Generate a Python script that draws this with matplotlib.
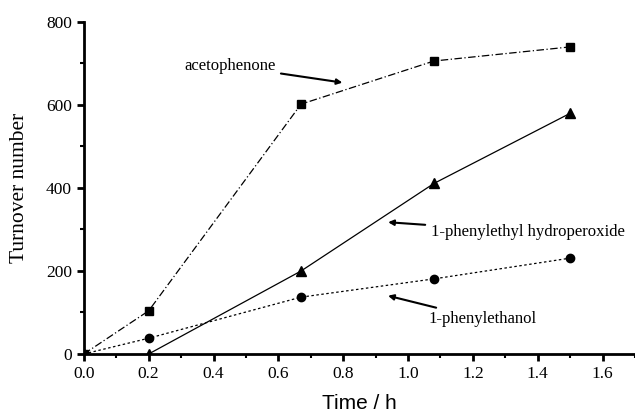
import matplotlib.pyplot as plt
from matplotlib.ticker import MultipleLocator

# data
time_h = [0.0, 0.2, 0.67, 1.08, 1.5]
acetophenone = [0, 104, 602, 706, 740]
hydroperoxide = [0, 0, 200, 411, 580]
phenylethanol = [0, 38, 137, 181, 231]

plt.rcParams['font.family'] = ['Liberation Serif', 'DejaVu Serif']

fig = plt.figure(figsize=(6.35, 4.15), dpi=100)
ax = fig.add_axes([0.132, 0.147, 0.868, 0.8])

ax.plot(time_h, acetophenone, color='black', lw=0.9, ls=(0, (6, 2, 1, 2)),
        marker='s', ms=6)
ax.plot(time_h[1:], hydroperoxide[1:], color='black', lw=0.9, ls='-',
        marker='^', ms=7)
ax.plot(time_h[:1], hydroperoxide[:1], color='black', marker='^', ms=7, ls='none')
ax.plot(time_h, phenylethanol, color='black', lw=0.9, ls=(0, (2, 2)),
        marker='o', ms=6)

ax.set_xlim(0, 1.70)
ax.set_ylim(0, 800)
ax.xaxis.set_minor_locator(MultipleLocator(0.1))
ax.yaxis.set_major_locator(MultipleLocator(200))
ax.yaxis.set_minor_locator(MultipleLocator(100))
ax.set_xticks([0, 0.2, 0.4, 0.6, 0.8, 1.0, 1.2, 1.4, 1.6])
ax.set_xticklabels(['0.0', '0.2', '0.4', '0.6', '0.8', '1.0', '1.2', '1.4', '1.6'])

for s in ['top', 'right']:
    ax.spines[s].set_visible(False)
for s in ['left', 'bottom']:
    ax.spines[s].set_linewidth(2)
ax.tick_params(which='major', direction='out', length=5, width=2, labelsize=12.5)
ax.tick_params(which='minor', direction='out', length=3, width=1.5)

ax.set_xlabel('Time / h', fontsize=15, labelpad=9,
              family=['Liberation Sans', 'DejaVu Sans'])
ax.set_ylabel('Turnover number', fontsize=15.5, labelpad=12)

arrow = dict(arrowstyle='-|>', color='black', lw=1.5, mutation_scale=8)
ax.annotate('acetophenone', xy=(0.806, 653), xytext=(0.45, 694),
            ha='center', va='center', fontsize=12, arrowprops=arrow)
ax.annotate('1-phenylethyl hydroperoxide', xy=(0.93, 318), xytext=(1.07, 294),
            ha='left', va='center', fontsize=12, arrowprops=arrow)
ax.annotate('1-phenylethanol', xy=(0.93, 142), xytext=(1.062, 84),
            ha='left', va='center', fontsize=12, arrowprops=arrow)

fig.savefig('out.png', dpi=100)
